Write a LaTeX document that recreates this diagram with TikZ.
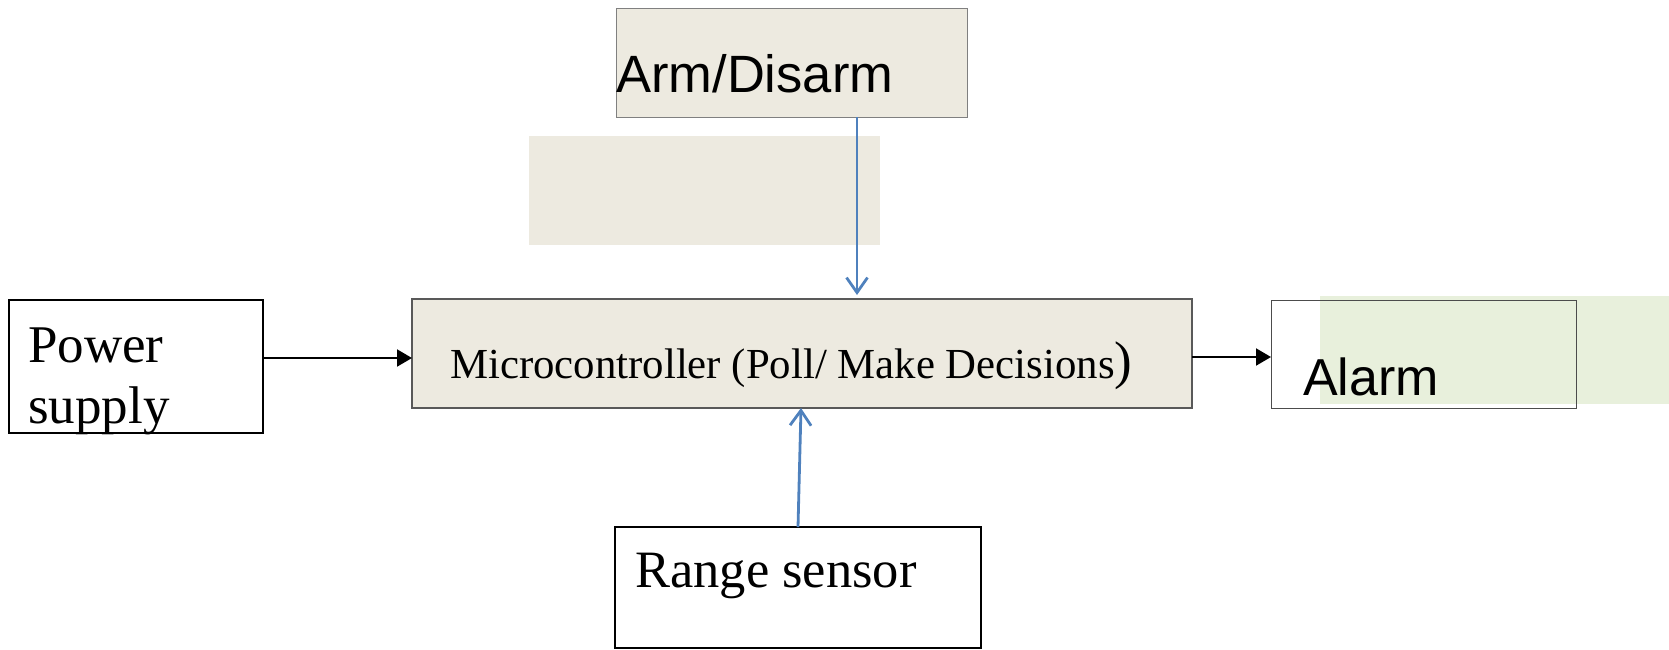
\documentclass[tikz,border=0pt]{standalone}
\usepackage{fontspec}
\setmainfont{Liberation Serif}
\newfontfamily\arialfont{Liberation Sans}
\usepackage{xcolor}
\usetikzlibrary{arrows.meta, positioning}

\definecolor{beige}{HTML}{EDEAE0}
\definecolor{palegreen}{HTML}{E8F0DC}
\definecolor{linkblue}{HTML}{4F81BD}

\begin{document}
\begin{tikzpicture}[
            x=1pt, y=-1pt,
            box/.style={rectangle, anchor=north west, inner sep=0pt, outer sep=0pt},
            label/.style={anchor=base west, inner sep=0pt},
            blackarrow/.style={-{Triangle[length=15pt, width=17pt]}, line width=2pt, black},
            bluearrow/.style={-{Straight Barb[length=15pt, width=21pt, line width=2.8pt]}, line width=2.8pt, linkblue}
        ]
            \useasboundingbox (0,0) rectangle (1669,649);

            % shaded patches behind the boxes
            \fill[beige] (529,136) rectangle (880,245);
            \fill[palegreen] (1320,296) rectangle (1669,404);

            \node[box, fill=beige, draw=black!50, line width=1pt, minimum width=351pt, minimum height=109pt] (arm) at (616,8) {};
            \node[box, fill=beige, draw=black!65, line width=1.3pt, minimum width=780pt, minimum height=109pt] (micro) at (412,299) {};
            \node[box, draw=black, line width=2pt, minimum width=254pt, minimum height=133pt] (power) at (9,300) {};
            \node[box, draw=black!70, line width=1pt, minimum width=305pt, minimum height=108pt] (alarm) at (1271,300) {};
            \node[box, draw=black, line width=2pt, minimum width=366pt, minimum height=121pt] (range) at (615,527) {};

            \node[label, font=\arialfont\fontsize{52.5}{60}\selectfont] (armtext) at (616,92) {Arm/Disarm};
            \node[label, font=\fontsize{53}{61}\selectfont, align=left] (powertext) at (28,423) {Power\\supply};
            \node[label, font=\fontsize{42.8}{50}\selectfont] (microtext) at (450,378) {Microcontroller (Poll/ Make Decisions{\fontsize{53}{60}\selectfont)}};
            \node[label, font=\arialfont\fontsize{52}{60}\selectfont] (alarmtext) at (1303,395) {Alarm};
            \node[label, font=\fontsize{52.5}{60}\selectfont] (rangetext) at (635,587) {Range sensor};

            \draw[blackarrow] ([yshift=8.5pt]power.east) -- ([yshift=-4.5pt]micro.west);
            \draw[blackarrow] ([yshift=-3.5pt]micro.east) -- ([yshift=-3pt]alarm.west);
            \draw[bluearrow, shorten >=4pt] ([xshift=65.5pt]arm.south) -- ([xshift=55pt]micro.north);
            \draw[bluearrow] (range.north) -- ([xshift=-1pt]micro.south);
        \end{tikzpicture}
\end{document}
